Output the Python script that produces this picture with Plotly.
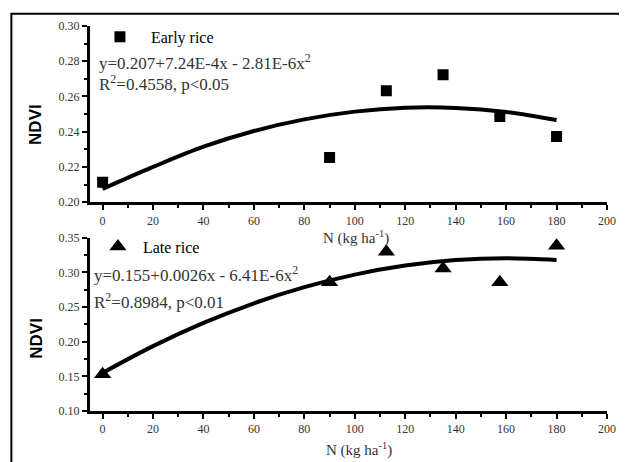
import plotly.graph_objects as go

# ---- data ----
N_RATES = [0, 90, 112.5, 135, 157.5, 180]
NDVI_EARLY = [0.2113, 0.2254, 0.2633, 0.2723, 0.2486, 0.2373]
NDVI_LATE = [0.1529, 0.2857, 0.3300, 0.3057, 0.2857, 0.3386]
CURVE_X = [0, 20, 40, 60, 80, 100, 120, 140, 160, 180]
FIT_EARLY = [0.2075, 0.220, 0.2315, 0.2404, 0.2470, 0.2514, 0.2536, 0.2535, 0.2512, 0.2466]
FIT_LATE = [0.155, 0.1936, 0.2271, 0.2555, 0.2788, 0.2969, 0.3099, 0.3178, 0.3205, 0.3181]
X_TICKS = [0, 20, 40, 60, 80, 100, 120, 140, 160, 180, 200]
Y_TICKS_EARLY = [0.20, 0.22, 0.24, 0.26, 0.28, 0.30]
Y_TICKS_LATE = [0.10, 0.15, 0.20, 0.25, 0.30, 0.35]
EQ_EARLY = "y=0.207+7.24E-4x - 2.81E-6x<sup>2</sup>"
R2_EARLY = "R<sup>2</sup>=0.4558, p&lt;0.05"
EQ_LATE = "y=0.155+0.0026x - 6.41E-6x<sup>2</sup>"
R2_LATE = "R<sup>2</sup>=0.8984, p&lt;0.01"

# page body has an 8px margin, so the figure sits at (8, 8) in the window
OFF = 8
W, H = 627 - OFF, 462 - OFF
# plot-area edges in window pixels
L, R, T, B = 90, 616, 22, 411


def px(x):
    return (x - L) / (R - L)


def py(y):
    return (B - y) / (B - T)


fig = go.Figure()
fig.add_trace(go.Scatter(x=N_RATES, y=NDVI_EARLY, mode="markers",
                         name="\u00a0Early rice",
                         marker=dict(symbol="square", size=11, color="black"),
                         legend="legend", xaxis="x", yaxis="y"))
fig.add_trace(go.Scatter(x=CURVE_X, y=FIT_EARLY, mode="lines", showlegend=False,
                         line=dict(color="black", width=4, shape="spline"),
                         xaxis="x", yaxis="y"))
fig.add_trace(go.Scatter(x=N_RATES, y=NDVI_LATE, mode="markers", name="Late rice",
                         marker=dict(symbol="triangle-up", size=15, color="black"),
                         legend="legend2", xaxis="x2", yaxis="y2"))
fig.add_trace(go.Scatter(x=CURVE_X, y=FIT_LATE, mode="lines", showlegend=False,
                         line=dict(color="black", width=4, shape="spline"),
                         xaxis="x2", yaxis="y2"))

SERIF = "Liberation Serif"
tickfont = dict(family=SERIF, size=12, color="#333")
minor_x = dict(dtick=10, ticks="outside", ticklen=3, tickwidth=2,
               tickcolor="black", showgrid=False)
common_x = dict(range=[-5, 200], tickvals=X_TICKS, showline=True, linewidth=3,
                linecolor="black", ticks="outside", ticklen=5, tickwidth=2,
                tickcolor="black", showgrid=False, zeroline=False, tickfont=tickfont,
                minor=minor_x)
common_y = dict(showline=True, linewidth=3, linecolor="black", ticks="outside",
                ticklen=5, tickwidth=2, tickcolor="black", showgrid=False,
                zeroline=False, tickfont=tickfont, tickformat=".2f")

top_dom = [py(200), 1.0]
bot_dom = [0.0, py(236)]

fig.update_layout(
    width=W, height=H, autosize=False,
    margin=dict(l=L - OFF, r=W - (R - OFF), t=T - OFF, b=H - (B - OFF)),
    paper_bgcolor="white", plot_bgcolor="white",
    xaxis=dict(anchor="y", domain=[0, 1], **common_x),
    yaxis=dict(anchor="x", domain=top_dom, range=[0.20, 0.30], tickvals=Y_TICKS_EARLY,
               minor=dict(dtick=0.01, ticks="outside", ticklen=3, tickwidth=2,
                          tickcolor="black", showgrid=False), **common_y),
    xaxis2=dict(anchor="y2", domain=[0, 1], **common_x),
    yaxis2=dict(anchor="x2", domain=bot_dom, range=[0.10, 0.35], tickvals=Y_TICKS_LATE,
                minor=dict(dtick=0.025, ticks="outside", ticklen=3, tickwidth=2,
                           tickcolor="black", showgrid=False), **common_y),
    legend=dict(x=px(93), y=py(33), xanchor="left", yanchor="middle",
                bgcolor="rgba(0,0,0,0)", itemwidth=44,
                font=dict(family=SERIF, size=16, color="black")),
    legend2=dict(x=px(93), y=py(245), xanchor="left", yanchor="middle",
                 bgcolor="rgba(0,0,0,0)", itemwidth=40,
                 font=dict(family=SERIF, size=16, color="black")),
    showlegend=True,
)

eqfont = dict(family=SERIF, size=17, color="#333")
titlefont = dict(family=SERIF, size=15, color="#333")
ann = [
    dict(text=EQ_EARLY, x=px(97), y=py(58), xanchor="left", yanchor="middle", font=eqfont),
    dict(text=R2_EARLY, x=px(97), y=py(80), xanchor="left", yanchor="middle", font=eqfont),
    dict(text=EQ_LATE, x=px(92), y=py(273), xanchor="left", yanchor="middle", font=eqfont),
    dict(text=R2_LATE, x=px(92), y=py(300), xanchor="left", yanchor="middle", font=eqfont),
    dict(text="N (kg ha<sup>-1</sup>)", x=px(361), y=py(236), xanchor="center",
         yanchor="middle", font=titlefont),
    dict(text="N (kg ha<sup>-1</sup>)", x=px(364), y=py(450), xanchor="center",
         yanchor="middle", font=titlefont),
    dict(text="<b>NDVI</b>", x=px(35), y=py(121), textangle=-90, xanchor="center",
         yanchor="middle", font=dict(family="Liberation Sans", size=17, color="black")),
    dict(text="<b>NDVI</b>", x=px(36), y=py(337), textangle=-90, xanchor="center",
         yanchor="middle", font=dict(family="Liberation Sans", size=17, color="black")),
]
for a in ann:
    a.update(xref="paper", yref="paper", showarrow=False)
fig.update_layout(annotations=ann)

# outer frame (left and top edges visible, others run off the page)
fig.add_shape(type="rect", xref="paper", yref="paper", x0=px(10), x1=px(700),
              y0=py(700), y1=py(OFF + 1.5), line=dict(color="black", width=2),
              fillcolor="rgba(0,0,0,0)")

fig.write_html("out.html")
